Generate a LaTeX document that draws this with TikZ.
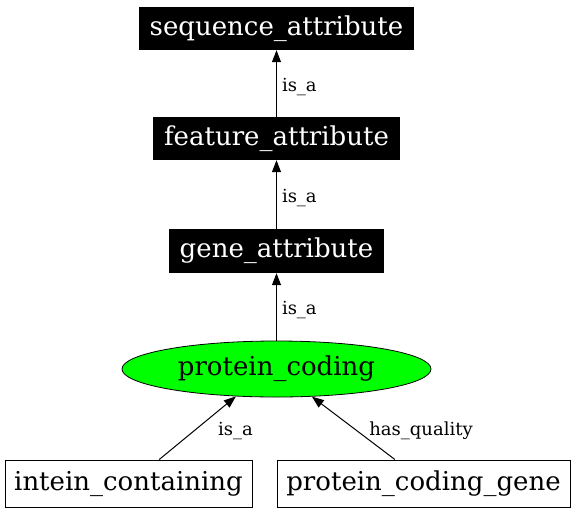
\documentclass[tikz,border=0pt]{standalone}
\usepackage{fontspec}
\setmainfont{DejaVu Serif}
\usetikzlibrary{shapes.geometric,arrows.meta}
\begin{document}
\begin{tikzpicture}[x=1pt,y=-1pt,
  nodefont/.style={font=\fontsize{26}{29}\selectfont},
  dark/.style={nodefont,fill=black,text=white,inner sep=0pt,minimum height=43pt},
  plain/.style={nodefont,draw=black,line width=1pt,fill=white,inner sep=0pt,minimum height=47pt},
  ell/.style={nodefont,ellipse,draw=black,line width=0.8pt,fill={rgb,255:red,0;green,255;blue,0},inner sep=0pt,minimum width=309pt,minimum height=56pt},
  lab/.style={font=\fontsize{18}{20}\selectfont,inner sep=0pt,yshift=-3pt},
  conn/.style={draw=black,line width=1pt,-{Triangle[length=12pt,width=9pt]}}
]
\useasboundingbox (0,0) rectangle (576,515);
\node[dark,minimum width=275pt] (seq) at (276.5,28.5) {sequence\_attribute};
\node[dark,minimum width=247pt] (feat) at (276.5,138.5) {feature\_attribute};
\node[dark,minimum width=215pt,minimum height=44pt] (gene) at (276.5,251) {gene\_attribute};
\node[ell] (pc) at (276.5,369) {protein\_coding};
\node[plain,minimum width=247pt] (intein) at (128.5,483.5) {intein\_containing};
\node[plain,minimum width=293pt] (pcg) at (423.5,483.5) {protein\_coding\_gene};

\draw[conn] (feat.north) -- node[lab,anchor=west,xshift=5pt] (l1) {is\_a} (seq.south);
\draw[conn] (gene.north) -- node[lab,anchor=west,xshift=5pt] (l2) {is\_a} (feat.south);
\draw[conn] (pc.north) -- node[lab,anchor=west,xshift=5pt] (l3) {is\_a} (gene.south);
\draw[conn] (intein.38.5) -- node[lab,anchor=west,xshift=20pt] (l4) {is\_a} (pc.214.4);
\draw[conn] (pcg.140.5) -- node[lab,anchor=west,xshift=15.5pt] (l5) {has\_quality} (pc.322.5);
\end{tikzpicture}
\end{document}
